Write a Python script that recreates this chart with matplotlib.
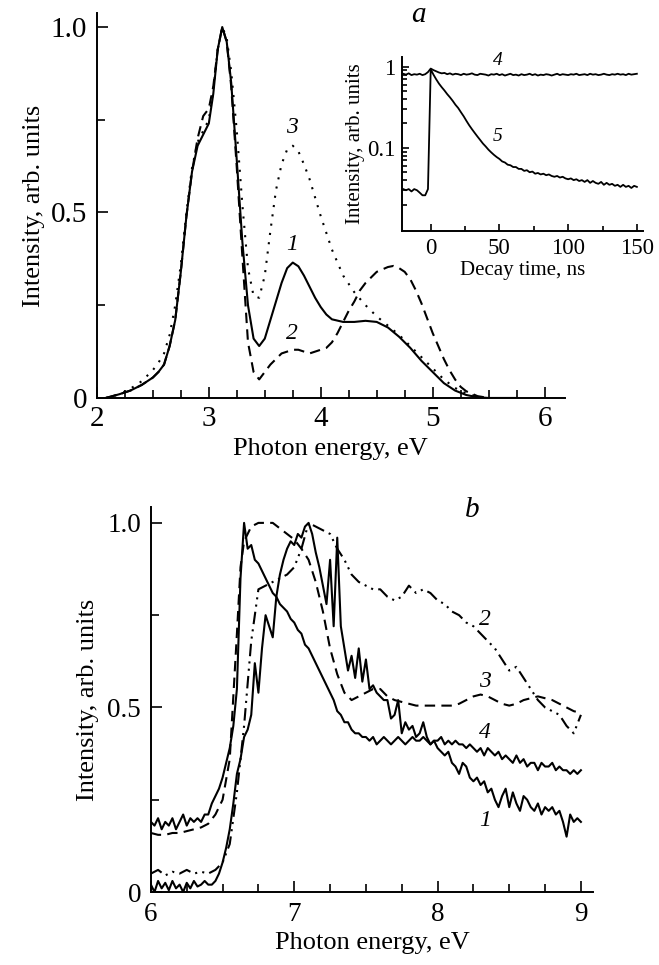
import numpy as np
import matplotlib.pyplot as plt
from matplotlib.ticker import MultipleLocator, FixedLocator, NullFormatter

plt.rcParams['font.family'] = ['Liberation Serif', 'DejaVu Serif']

# ---- panel a: emission spectra ----
e1 = [2.08, 2.2, 2.3, 2.4, 2.5, 2.55, 2.6, 2.65, 2.7, 2.75, 2.8, 2.85, 2.9, 2.95, 3.0,
      3.04, 3.08, 3.12, 3.16, 3.2, 3.25, 3.3, 3.35, 3.4, 3.45, 3.5, 3.55, 3.6, 3.65, 3.7,
      3.75, 3.8, 3.85, 3.9, 3.95, 4.0, 4.05, 4.1, 4.2, 4.3, 4.4, 4.5, 4.6, 4.7, 4.8, 4.9,
      5.0, 5.1, 5.2, 5.3, 5.4, 5.5, 5.75]
i1 = [0.0, 0.01, 0.02, 0.035, 0.055, 0.07, 0.09, 0.14, 0.21, 0.34, 0.49, 0.61, 0.68, 0.71, 0.74,
      0.82, 0.94, 1.0, 0.96, 0.85, 0.64, 0.42, 0.25, 0.16, 0.14, 0.16, 0.21, 0.26, 0.31, 0.35,
      0.365, 0.355, 0.33, 0.3, 0.27, 0.245, 0.225, 0.212, 0.205, 0.205, 0.208, 0.205, 0.19,
      0.165, 0.135, 0.1, 0.07, 0.04, 0.02, 0.008, 0.002, 0.0, 0.0]

e2 = [2.08, 2.2, 2.3, 2.4, 2.5, 2.55, 2.6, 2.65, 2.7, 2.75, 2.8, 2.85, 2.9, 2.95, 3.0,
      3.04, 3.08, 3.12, 3.16, 3.2, 3.25, 3.3, 3.35, 3.4, 3.45, 3.5, 3.55, 3.6, 3.65, 3.7,
      3.75, 3.8, 3.85, 3.9, 3.95, 4.0, 4.05, 4.1, 4.15, 4.2, 4.25, 4.3, 4.35, 4.4, 4.5, 4.6,
      4.65, 4.7, 4.75, 4.8, 4.85, 4.9, 4.95, 5.0, 5.05, 5.1, 5.15, 5.2, 5.25, 5.3, 5.4, 5.5]
i2 = [0.0, 0.01, 0.02, 0.035, 0.055, 0.07, 0.09, 0.14, 0.21, 0.34, 0.49, 0.61, 0.7, 0.76, 0.78,
      0.84, 0.94, 1.0, 0.96, 0.84, 0.62, 0.38, 0.15, 0.07, 0.05, 0.07, 0.09, 0.105, 0.12, 0.125,
      0.13, 0.13, 0.125, 0.12, 0.125, 0.13, 0.135, 0.15, 0.175, 0.205, 0.235, 0.26, 0.29, 0.31,
      0.34, 0.353, 0.356, 0.35, 0.34, 0.32, 0.29, 0.255, 0.215, 0.175, 0.14, 0.105, 0.075, 0.05,
      0.03, 0.018, 0.005, 0.0]

e3 = [2.08, 2.2, 2.3, 2.4, 2.5, 2.55, 2.6, 2.65, 2.7, 2.75, 2.8, 2.85, 2.9, 2.95, 3.0,
      3.04, 3.08, 3.12, 3.16, 3.2, 3.25, 3.3, 3.35, 3.4, 3.45, 3.5, 3.55, 3.6, 3.65, 3.7,
      3.75, 3.8, 3.85, 3.9, 3.95, 4.0, 4.1, 4.2, 4.3, 4.4, 4.5, 4.6, 4.7, 4.8, 4.9, 5.0,
      5.1, 5.2, 5.3, 5.4, 5.5]
i3 = [0.0, 0.01, 0.025, 0.045, 0.075, 0.095, 0.12, 0.17, 0.25, 0.36, 0.5, 0.62, 0.69, 0.72, 0.75,
      0.83, 0.94, 1.0, 0.97, 0.88, 0.72, 0.52, 0.35, 0.275, 0.27, 0.33, 0.45, 0.56, 0.63, 0.67,
      0.68, 0.665, 0.63, 0.59, 0.54, 0.49, 0.4, 0.33, 0.285, 0.25, 0.22, 0.195, 0.17, 0.14, 0.11,
      0.08, 0.05, 0.027, 0.012, 0.004, 0.0]

# ---- inset: decay curves ----
t_dec = [-20, -18, -16, -14, -12, -10, -8, -6, -4, -2, 0, 2, 4, 6, 8, 10, 12, 14, 16, 18,
         20, 22, 24, 26, 28, 30, 32, 34, 36, 38, 40, 42, 44, 46, 48, 50, 52, 54, 56, 58,
         60, 62, 64, 66, 68, 70, 72, 74, 76, 78, 80, 82, 84, 86, 88, 90, 92, 94, 96, 98,
         100, 102, 104, 106, 108, 110, 112, 114, 116, 118, 120, 122, 124, 126, 128, 130,
         132, 134, 136, 138, 140, 142, 144, 146, 148, 150]
dec4 = [0.82, 0.8, 0.83, 0.79, 0.81, 0.8, 0.82, 0.79, 0.81, 0.86, 0.95, 0.91, 0.88, 0.85, 0.83,
        0.84, 0.81, 0.83, 0.8, 0.82, 0.81, 0.79, 0.82, 0.8, 0.81, 0.83, 0.8, 0.79, 0.82, 0.81,
        0.8, 0.78, 0.81, 0.8, 0.82, 0.79, 0.81, 0.78, 0.8, 0.82, 0.79, 0.8, 0.78, 0.81, 0.79,
        0.8, 0.82, 0.79, 0.81, 0.78, 0.8, 0.79, 0.81, 0.8, 0.78, 0.8, 0.82, 0.79, 0.81, 0.8,
        0.79, 0.81, 0.8, 0.82, 0.79, 0.8, 0.81, 0.79, 0.82, 0.8, 0.81, 0.79, 0.8, 0.82, 0.8,
        0.79, 0.81, 0.8, 0.82, 0.8, 0.81, 0.79, 0.82, 0.8, 0.81, 0.82]
dec5 = [0.031, 0.03, 0.031, 0.029, 0.031, 0.03, 0.028, 0.026, 0.026, 0.031, 0.93, 0.8, 0.7,
        0.62, 0.56, 0.51, 0.46, 0.42, 0.38, 0.34, 0.31, 0.275, 0.245, 0.215, 0.19, 0.17, 0.153,
        0.138, 0.125, 0.113, 0.104, 0.095, 0.088, 0.082, 0.077, 0.073, 0.068, 0.066, 0.062,
        0.061, 0.058, 0.058, 0.055, 0.055, 0.052, 0.053, 0.05, 0.051, 0.048, 0.049, 0.047,
        0.048, 0.046, 0.047, 0.045, 0.044, 0.045, 0.043, 0.044, 0.042, 0.041, 0.042, 0.04,
        0.041, 0.039, 0.04, 0.038, 0.04, 0.037, 0.039, 0.037, 0.036, 0.038, 0.035, 0.037,
        0.035, 0.036, 0.034, 0.035, 0.033, 0.035, 0.033, 0.034, 0.032, 0.034, 0.033]

# ---- panel b: excitation spectra ----
e_b = [6.0, 6.025, 6.05, 6.075, 6.1, 6.125, 6.15, 6.175, 6.2, 6.225, 6.25, 6.275, 6.3, 6.325,
       6.35, 6.375, 6.4, 6.425, 6.45, 6.475, 6.5, 6.525, 6.55, 6.575, 6.6, 6.625, 6.65, 6.675,
       6.7, 6.725, 6.75, 6.775, 6.8, 6.825, 6.85, 6.875, 6.9, 6.925, 6.95, 6.975, 7.0, 7.025,
       7.05, 7.075, 7.1, 7.125, 7.15, 7.175, 7.2, 7.225, 7.25, 7.275, 7.3, 7.325, 7.35, 7.375,
       7.4, 7.425, 7.45, 7.475, 7.5, 7.525, 7.55, 7.575, 7.6, 7.625, 7.65, 7.675, 7.7, 7.725,
       7.75, 7.775, 7.8, 7.825, 7.85, 7.875, 7.9, 7.925, 7.95, 7.975, 8.0, 8.025, 8.05, 8.075,
       8.1, 8.125, 8.15, 8.175, 8.2, 8.225, 8.25, 8.275, 8.3, 8.325, 8.35, 8.375, 8.4, 8.425,
       8.45, 8.475, 8.5, 8.525, 8.55, 8.575, 8.6, 8.625, 8.65, 8.675, 8.7, 8.725, 8.75, 8.775,
       8.8, 8.825, 8.85, 8.875, 8.9, 8.925, 8.95, 8.975, 9.0]
b1 = [0.02, 0.0, 0.03, 0.01, 0.025, 0.005, 0.03, 0.01, 0.02, 0.0, 0.025, 0.01, 0.03, 0.015,
      0.02, 0.03, 0.02, 0.02, 0.03, 0.05, 0.08, 0.12, 0.17, 0.24, 0.32, 0.36, 0.42, 0.44,
      0.48, 0.62, 0.54, 0.66, 0.75, 0.72, 0.69, 0.8, 0.86, 0.9, 0.93, 0.95, 0.94, 0.97,
      0.96, 0.99, 1.0, 0.97, 0.92, 0.88, 0.83, 0.78, 0.9, 0.72, 0.96, 0.72, 0.66, 0.6,
      0.64, 0.58, 0.66, 0.57, 0.63, 0.55, 0.56, 0.54, 0.53, 0.52, 0.52, 0.47, 0.48, 0.52,
      0.43, 0.46, 0.44, 0.45, 0.42, 0.43, 0.46, 0.42, 0.4, 0.41, 0.39, 0.38, 0.37, 0.38,
      0.35, 0.34, 0.32, 0.35, 0.34, 0.31, 0.3, 0.31, 0.29, 0.3, 0.27, 0.28, 0.25, 0.23,
      0.26, 0.28, 0.23, 0.27, 0.24, 0.22, 0.26, 0.25, 0.23, 0.22, 0.24, 0.21, 0.23, 0.22,
      0.23, 0.21, 0.22, 0.19, 0.15, 0.21, 0.19, 0.2, 0.19]
b4 = [0.19, 0.18, 0.2, 0.17, 0.19, 0.18, 0.2, 0.17, 0.19, 0.21, 0.18, 0.2, 0.19, 0.2,
      0.19, 0.21, 0.21, 0.24, 0.26, 0.28, 0.31, 0.35, 0.39, 0.45, 0.55, 0.85, 1.0, 0.93,
      0.94, 0.9, 0.89, 0.87, 0.85, 0.83, 0.81, 0.8, 0.78, 0.77, 0.76, 0.74, 0.73, 0.71,
      0.7, 0.67, 0.66, 0.64, 0.62, 0.6, 0.58, 0.56, 0.54, 0.52, 0.49, 0.48, 0.46, 0.46,
      0.44, 0.43, 0.43, 0.42, 0.42, 0.41, 0.42, 0.4, 0.41, 0.42, 0.41, 0.4, 0.41, 0.42,
      0.41, 0.4, 0.41, 0.42, 0.41, 0.41, 0.42, 0.41, 0.4, 0.41, 0.41, 0.42, 0.4, 0.41,
      0.4, 0.41, 0.4, 0.4, 0.39, 0.4, 0.39, 0.38, 0.39, 0.37, 0.39, 0.38, 0.37, 0.38,
      0.36, 0.37, 0.36, 0.35, 0.37, 0.35, 0.36, 0.34, 0.35, 0.35, 0.33, 0.35, 0.34, 0.34,
      0.35, 0.33, 0.34, 0.33, 0.33, 0.32, 0.33, 0.32, 0.33]

e_b2 = [6.0, 6.05, 6.1, 6.15, 6.2, 6.25, 6.3, 6.35, 6.4, 6.45, 6.5, 6.55, 6.6, 6.65, 6.7,
        6.75, 6.8, 6.85, 6.9, 6.95, 7.0, 7.05, 7.1, 7.15, 7.2, 7.25, 7.3, 7.35, 7.4, 7.45,
        7.5, 7.55, 7.6, 7.65, 7.7, 7.75, 7.8, 7.85, 7.9, 7.95, 8.0, 8.05, 8.1, 8.15, 8.2,
        8.25, 8.3, 8.35, 8.4, 8.45, 8.5, 8.55, 8.6, 8.65, 8.7, 8.75, 8.8, 8.85, 8.9, 8.95, 9.0]
b2 = [0.05, 0.06, 0.045, 0.055, 0.05, 0.06, 0.05, 0.055, 0.05, 0.06, 0.08, 0.13, 0.27, 0.45,
      0.68, 0.82, 0.83, 0.84, 0.85, 0.86, 0.88, 0.93, 1.0, 0.99, 0.98, 0.97, 0.93, 0.9, 0.86,
      0.84, 0.83, 0.82, 0.82, 0.8, 0.79, 0.8, 0.83, 0.81, 0.82, 0.81, 0.79, 0.78, 0.76, 0.75,
      0.73, 0.72, 0.7, 0.68, 0.66, 0.63, 0.6, 0.61, 0.58, 0.55, 0.52, 0.5, 0.49, 0.48, 0.45,
      0.43, 0.48]

e_b3 = [6.0, 6.05, 6.1, 6.15, 6.2, 6.25, 6.3, 6.35, 6.4, 6.45, 6.5, 6.55, 6.6, 6.625, 6.65,
        6.7, 6.75, 6.8, 6.85, 6.9, 6.95, 7.0, 7.05, 7.1, 7.15, 7.2, 7.25, 7.3, 7.35, 7.4,
        7.45, 7.5, 7.55, 7.6, 7.65, 7.7, 7.75, 7.8, 7.85, 7.9, 7.95, 8.0, 8.05, 8.1, 8.15,
        8.2, 8.25, 8.3, 8.35, 8.4, 8.45, 8.5, 8.55, 8.6, 8.65, 8.7, 8.75, 8.8, 8.85, 8.9,
        8.95, 9.0]
b3 = [0.16, 0.155, 0.155, 0.16, 0.16, 0.165, 0.17, 0.175, 0.185, 0.21, 0.25, 0.36, 0.7, 0.88,
      0.95, 0.99, 1.0, 1.0, 1.0, 0.985, 0.97, 0.955, 0.93, 0.9, 0.84, 0.76, 0.66, 0.59, 0.54,
      0.52, 0.53, 0.54, 0.55, 0.55, 0.53, 0.52, 0.515, 0.51, 0.505, 0.505, 0.505, 0.505, 0.505,
      0.505, 0.51, 0.52, 0.53, 0.535, 0.53, 0.52, 0.51, 0.505, 0.51, 0.52, 0.525, 0.53, 0.525,
      0.52, 0.51, 0.5, 0.49, 0.485]

fig = plt.figure(figsize=(6.59, 9.65), dpi=100)

def style_axes(ax, major=8, minor=6, size=19):
    for s in ['top', 'right']:
        ax.spines[s].set_visible(False)
    for s in ['left', 'bottom']:
        ax.spines[s].set_linewidth(1.4)
    ax.tick_params(which='both', direction='in', width=1.2, labelsize=size, pad=7)
    ax.tick_params(which='major', length=major)
    ax.tick_params(which='minor', length=minor)

lw = 1.5

# panel a
ax1 = fig.add_axes([0.147, 0.5876, 0.710, 0.399])
ax1.plot(e1, i1, color='black', lw=lw)
ax1.plot(e2, i2, color='black', lw=lw, linestyle=(0, (5, 3)))
ax1.plot(e3, i3, color='black', lw=lw, linestyle=(0, (1, 3.5)))
ax1.set_xlim(2, 6.18)
ax1.set_ylim(0, 1.038)
ax1.xaxis.set_major_locator(FixedLocator([2, 3, 4, 5, 6]))
ax1.xaxis.set_minor_locator(MultipleLocator(0.25))
ax1.yaxis.set_major_locator(FixedLocator([0, 0.5, 1.0]))
ax1.set_yticklabels(['0', '0.5', '1.0'])
ax1.yaxis.set_minor_locator(FixedLocator([0.25, 0.75]))
style_axes(ax1, size=21)
ax1.tick_params(axis='x', pad=6)
ax1.set_xlabel('Photon energy, eV', fontsize=19, labelpad=4)
ax1.set_ylabel('Intensity, arb. units', fontsize=19, labelpad=4)
for txt, x, y in [('3', 3.74, 0.73), ('1', 3.74, 0.415), ('2', 3.74, 0.175)]:
    ax1.text(x, y, txt, fontsize=17, style='italic', ha='center', va='center')

# inset
ax_in = fig.add_axes([0.610, 0.7609, 0.366, 0.1803])
ax_in.semilogy(t_dec, dec4, color='black', lw=1.3)
ax_in.semilogy(t_dec, dec5, color='black', lw=1.3)
ax_in.set_xlim(-20.9, 154.6)
ax_in.set_ylim(0.0095, 1.33)
ax_in.xaxis.set_major_locator(FixedLocator([0, 50, 100, 150]))
ax_in.xaxis.set_minor_locator(FixedLocator([25, 75, 125]))
ax_in.yaxis.set_major_locator(FixedLocator([0.1, 1]))
ax_in.set_yticklabels(['0.1', '1'])
ax_in.yaxis.set_minor_formatter(NullFormatter())
style_axes(ax_in, major=5, minor=3.5, size=16.5)
ax_in.tick_params(which='both', pad=5)
ax_in.set_xlabel('Decay time, ns', fontsize=15, labelpad=2)
ax_in.set_ylabel('Intensity, arb. units', fontsize=15, labelpad=1)
ax_in.text(48.5, 1.2, '4', fontsize=14, style='italic', ha='center', va='center')
ax_in.text(48.5, 0.14, '5', fontsize=14, style='italic', ha='center', va='center')

fig.text(418 / 659, 1 - 15 / 965, 'a', fontsize=21, style='italic', ha='center', va='center')

# panel b
ax2 = fig.add_axes([0.229, 0.0756, 0.671, 0.399])
ax2.plot(e_b, b1, color='black', lw=lw)
ax2.plot(e_b, b4, color='black', lw=lw)
ax2.plot(e_b2, b2, color='black', lw=lw, linestyle=(0, (6, 2.5, 1, 2.5, 1, 2.5)))
ax2.plot(e_b3, b3, color='black', lw=lw, linestyle=(0, (5, 3)))
ax2.set_xlim(6, 9.085)
ax2.set_ylim(0, 1.043)
ax2.xaxis.set_major_locator(FixedLocator([6, 7, 8, 9]))
ax2.xaxis.set_minor_locator(MultipleLocator(0.25))
ax2.yaxis.set_major_locator(FixedLocator([0, 0.5, 1.0]))
ax2.set_yticklabels(['0', '0.5', '1.0'])
ax2.yaxis.set_minor_locator(FixedLocator([0.25, 0.75]))
style_axes(ax2, size=19.5)
ax2.set_xlabel('Photon energy, eV', fontsize=19, labelpad=4)
ax2.set_ylabel('Intensity, arb. units', fontsize=19, labelpad=6)
for txt, x, y in [('2', 8.33, 0.737), ('3', 8.33, 0.569), ('4', 8.33, 0.431), ('1', 8.33, 0.195)]:
    ax2.text(x, y, txt, fontsize=17, style='italic', ha='center', va='center')

fig.text(472 / 659, 1 - 510 / 965, 'b', fontsize=21, style='italic', ha='center', va='center')

plt.savefig('out.png', dpi=100)
